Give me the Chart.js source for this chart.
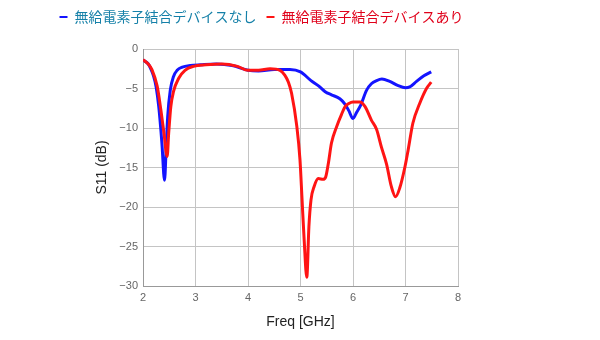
<!DOCTYPE html>
<html>
<head>
<meta charset="utf-8">
<script src="https://cdn.jsdelivr.net/npm/chart.js@4/dist/chart.umd.min.js"></script>
<style>
  html, body { margin: 0; padding: 0; background: #fff; }
  #wrap { width: 600px; height: 340px; }
</style>
</head>
<body>
<div id="wrap"><canvas id="s11Chart" width="600" height="340"></canvas></div>
<script>
// Series labels
const seriesNames = ['無給電素子結合デバイスなし', '無給電素子結合デバイスあり'];

// Without parasitic element (blue)
const freqWithout = [2.00, 2.10, 2.14, 2.20, 2.25, 2.30, 2.36, 2.41, 2.44, 2.47, 2.52, 2.58, 2.65, 2.75, 2.90,
  3.10, 3.40, 3.70, 4.00, 4.20, 4.50, 4.80, 5.00, 5.20, 5.35, 5.47, 5.59, 5.75, 5.85, 5.92, 6.00, 6.07, 6.14,
  6.26, 6.35, 6.45, 6.55, 6.70, 6.85, 7.00, 7.08, 7.21, 7.35, 7.49];
const s11Without = [-1.4, -1.9, -2.4, -3.4, -4.8, -7.3, -11.9, -16.6, -12.8, -8.6, -5.2, -3.5, -2.7, -2.3, -2.1,
  -2.0, -1.9, -2.1, -2.7, -2.8, -2.6, -2.6, -2.9, -4.0, -4.7, -5.4, -5.8, -6.3, -7.0, -7.8, -8.8, -8.0, -7.2,
  -5.2, -4.4, -4.0, -3.8, -4.1, -4.6, -4.9, -4.8, -4.1, -3.4, -2.9];

// With parasitic element (red)
const freqWith = [2.00, 2.10, 2.17, 2.27, 2.34, 2.40, 2.46, 2.49, 2.53, 2.58, 2.68, 2.80, 2.96, 3.20, 3.50,
  3.80, 4.00, 4.20, 4.42, 4.61, 4.70, 4.77, 4.83, 4.93, 4.99, 5.03, 5.07, 5.12, 5.16, 5.20, 5.26, 5.34, 5.43,
  5.48, 5.53, 5.59, 5.69, 5.78, 5.85, 5.92, 6.00, 6.13, 6.23, 6.35, 6.45, 6.54, 6.64, 6.73, 6.81, 6.89, 6.99,
  7.05, 7.14, 7.27, 7.40, 7.49];
const s11With = [-1.35, -1.9, -2.6, -4.7, -7.7, -10.7, -13.6, -10.6, -7.3, -5.4, -3.7, -2.7, -2.2, -2.0, -1.9,
  -2.2, -2.7, -2.7, -2.5, -2.7, -3.3, -4.2, -5.6, -9.8, -14.0, -19.1, -24.2, -28.9, -22.5, -19.1, -17.4, -16.4, -16.5,
  -16.2, -14.5, -11.9, -9.8, -8.3, -7.3, -6.9, -6.7, -6.7, -7.3, -9.0, -10.2, -12.4, -14.6, -17.4, -18.7, -17.6, -14.9,
  -12.8, -9.4, -6.9, -5.0, -4.2];

// Axis ranges
const xRange = [2, 8];
const yRange = [-30, 0];

const toPoints = (xs, ys) => xs.map((x, i) => ({ x: x, y: ys[i] }));
const legendTextColors = ['#1580a8', '#e0001a'];

const plotData = {
  datasets: [{
    label: seriesNames[0],
    data: toPoints(freqWithout, s11Without),
    borderColor: '#1414ff',
    borderWidth: 3,
    pointRadius: 0,
    cubicInterpolationMode: 'monotone',
    order: 1
  }, {
    label: seriesNames[1],
    data: toPoints(freqWith, s11With),
    borderColor: '#ff1414',
    borderWidth: 3,
    pointRadius: 0,
    cubicInterpolationMode: 'monotone',
    order: 0
  }]
};

const tickFont = { family: '"Liberation Sans", Arial, sans-serif', size: 11 };
const titleFont = { family: '"Liberation Sans", Arial, sans-serif', size: 14 };

// empty axes used only as spacers
const spacer = (position, fit) => ({
  type: 'linear',
  position: position,
  display: true,
  grid: { display: false },
  border: { display: false },
  ticks: { display: false },
  afterFit: fit
});

const plotConfig = {
  type: 'line',
  data: plotData,
  options: {
    responsive: false,
    animation: false,
    layout: { padding: { top: 0, left: 0, right: 77, bottom: 0 } },
    plugins: {
      tooltip: { enabled: false },
      legend: {
        position: 'top',
        labels: {
          font: { family: '"Noto Sans CJK JP", sans-serif', size: 14 },
          usePointStyle: true,
          pointStyle: 'line',
          boxWidth: 8,
          boxHeight: 8,
          pointStyleWidth: 8,
          padding: 10,
          sort: (a, b) => a.datasetIndex - b.datasetIndex,
          generateLabels: chart => {
            const items = Chart.defaults.plugins.legend.labels.generateLabels(chart);
            items.forEach(item => {
              item.fontColor = legendTextColors[item.datasetIndex];
              item.lineWidth = 2;
            });
            return items;
          }
        }
      }
    },
    scales: {
      x: {
        type: 'linear',
        min: xRange[0],
        max: xRange[1],
        ticks: { stepSize: 1, color: '#666', font: tickFont, padding: 5 },
        grid: { color: '#c4c4c4', drawTicks: false },
        border: { color: '#999' },
        title: { display: true, text: 'Freq [GHz]', color: '#222', font: titleFont, padding: { top: 4, bottom: 9 } },
        afterFit: scale => { scale.height = 54; }
      },
      y: {
        min: yRange[0],
        max: yRange[1],
        ticks: {
          stepSize: 5,
          color: '#666',
          font: tickFont,
          padding: 5,
          callback: v => String(v).replace('-', '\u2212')
        },
        grid: { color: '#c4c4c4', drawTicks: false },
        border: { color: '#999' },
        title: { display: true, text: 'S11 (dB)', color: '#222', font: titleFont, padding: { top: 94, bottom: 0 } },
        afterFit: scale => { scale.width = 143; }
      },
      xTop: spacer('top', scale => { scale.height = 15; }),
      yRight: spacer('right', scale => { scale.width = 65; })
    }
  }
};

window.chart = new Chart(document.getElementById('s11Chart'), plotConfig);
</script>
</body>
</html>
